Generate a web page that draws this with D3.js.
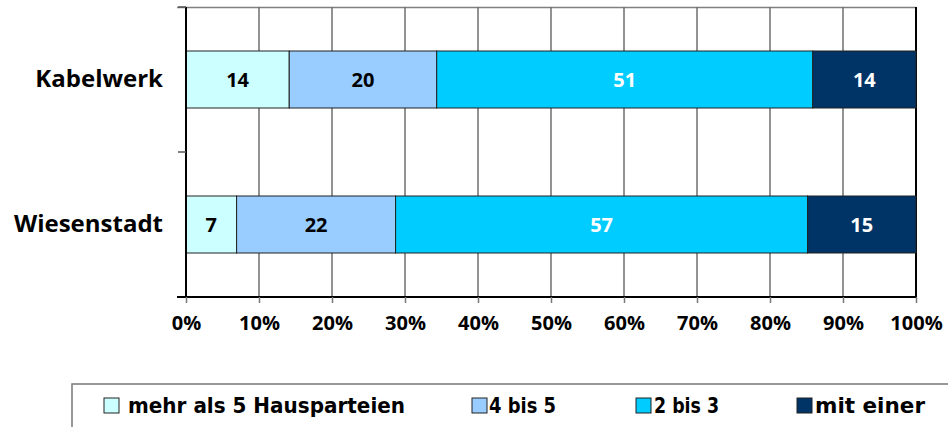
<!DOCTYPE html>
<html>
<head>
<meta charset="utf-8">
<script src="https://cdn.jsdelivr.net/npm/d3@7"></script>
<style>
  body { margin: 0; background: #fff; }
  text { font-family: "Open Sans", sans-serif; font-weight: bold; }
</style>
</head>
<body>
<script>
// chart data
const categories = ['Kabelwerk', 'Wiesenstadt'];
const seriesNames = ['mehr als 5 Hausparteien', '4 bis 5', '2 bis 3', 'mit einer'];
const kabelwerk = [14, 20, 51, 14];
const wiesenstadt = [7, 22, 57, 15];
const xTicks = [0, 10, 20, 30, 40, 50, 60, 70, 80, 90, 100];

const colors = ['#ccffff', '#99ccff', '#00ccff', '#003366'];
const labelColors = ['#000', '#000', '#fff', '#fff'];

const SCREEN = { width: 948, height: 427, left: 186, right: 32, top: 7, bottom: 130 };
SCREEN.innerWidth = SCREEN.width - SCREEN.left - SCREEN.right;
SCREEN.innerHeight = SCREEN.height - SCREEN.top - SCREEN.bottom;

const svg = d3.select('body').append('svg')
    .attr('width', SCREEN.width)
    .attr('height', SCREEN.height);

const canvas = svg.append('g')
    .attr('transform', `translate(${SCREEN.left},${SCREEN.top})`);

// build stacked rows (values normalised to 100%)
const rows = [kabelwerk, wiesenstadt].map((vals, i) => {
    const total = d3.sum(vals);
    let acc = 0;
    return vals.map((v, j) => {
        const seg = { cat: categories[i], idx: j, value: v, x0: acc / total * 100 };
        acc += v;
        seg.x1 = acc / total * 100;
        return seg;
    });
});

const x = d3.scaleLinear().domain([0, 100]).range([0, SCREEN.innerWidth]);
const pi = 1 - 57 / 145;
const y = d3.scaleBand().domain(categories).range([0, SCREEN.innerHeight])
    .paddingInner(pi).paddingOuter(pi / 2);

// top frame line
canvas.append('line')
    .attr('x1', -9).attr('x2', SCREEN.innerWidth)
    .attr('y1', 0.5).attr('y2', 0.5)
    .attr('stroke', '#808080').attr('stroke-width', 1.5);

// vertical grid
canvas.append('g').selectAll('line')
    .data(xTicks.slice(1))
    .join('line')
    .attr('x1', d => x(d)).attr('x2', d => x(d))
    .attr('y1', 0).attr('y2', SCREEN.innerHeight)
    .attr('stroke', d => d === 100 ? '#000' : '#6e6e6e')
    .attr('stroke-width', d => d === 100 ? 2 : 1.5);

// bars
const rowGroups = canvas.selectAll('g.row')
    .data(rows)
    .join('g')
    .attr('class', 'row');

rowGroups.selectAll('rect')
    .data(d => d)
    .join('rect')
    .attr('x', d => x(d.x0))
    .attr('width', d => x(d.x1) - x(d.x0))
    .attr('y', d => y(d.cat))
    .attr('height', y.bandwidth())
    .attr('fill', d => colors[d.idx])
    .attr('stroke', '#222')
    .attr('stroke-width', 1);

rowGroups.selectAll('text')
    .data(d => d)
    .join('text')
    .attr('x', d => x((d.x0 + d.x1) / 2))
    .attr('y', d => y(d.cat) + y.bandwidth() / 2)
    .attr('dy', '0.36em')
    .attr('text-anchor', 'middle')
    .attr('fill', d => labelColors[d.idx])
    .style('font-size', '20px')
    .text(d => d.value);

// y axis
const yAxis = d3.axisLeft(y).tickSize(0).tickPadding(23).tickSizeOuter(0);
const yAxisGroup = canvas.append('g').call(yAxis);
yAxisGroup.select('.domain').remove();
yAxisGroup.selectAll('text')
    .style('font-size', '24px')
    .attr('fill', '#000');

// y axis line and band separator ticks
canvas.append('line')
    .attr('x1', 0).attr('x2', 0)
    .attr('y1', 0).attr('y2', SCREEN.innerHeight)
    .attr('stroke', '#000').attr('stroke-width', 2);
canvas.append('g').selectAll('line')
    .data([0, y.step(), 2 * y.step()])
    .join('line')
    .attr('x1', -8).attr('x2', 0)
    .attr('y1', d => d).attr('y2', d => d)
    .attr('stroke', '#555').attr('stroke-width', 1.5);

// x axis
const xAxis = d3.axisBottom(x)
    .tickValues(xTicks)
    .tickFormat(d => d + '%')
    .tickSize(6)
    .tickPadding(13)
    .tickSizeOuter(0);
const xAxisGroup = canvas.append('g')
    .attr('transform', `translate(0,${SCREEN.innerHeight})`)
    .call(xAxis);
xAxisGroup.select('.domain')
    .attr('stroke', '#000').attr('stroke-width', 2)
    .attr('d', `M-9,0H${SCREEN.innerWidth}`);
xAxisGroup.selectAll('.tick line').attr('stroke', '#777').attr('stroke-width', 1.5);
xAxisGroup.selectAll('text')
    .style('font-size', '20px')
    .attr('fill', '#000');

// legend
const legend = svg.append('g').attr('transform', 'translate(72,384)');
legend.append('rect')
    .attr('x', 0).attr('y', 0)
    .attr('width', 900).attr('height', 60)
    .attr('fill', '#fff')
    .attr('stroke', '#777').attr('stroke-width', 1.5);

const legendSwatchX = [32, 400, 564, 725];
const legendTextX = [56, 417, 582, 743];
const legendTextWidth = [277, 67, 65, 110];
const legendItems = legend.selectAll('g.item')
    .data(seriesNames)
    .join('g')
    .attr('class', 'item');

legendItems.append('rect')
    .attr('x', (d, i) => legendSwatchX[i])
    .attr('y', 14)
    .attr('width', 15).attr('height', 15)
    .attr('fill', (d, i) => colors[i])
    .attr('stroke', '#222').attr('stroke-width', 1);

legendItems.append('text')
    .attr('x', (d, i) => legendTextX[i])
    .attr('y', 29)
    .attr('textLength', (d, i) => legendTextWidth[i])
    .attr('lengthAdjust', 'spacingAndGlyphs')
    .style('font-family', '"DejaVu Sans Condensed", "DejaVu Sans", sans-serif')
    .style('font-size', '21px')
    .attr('fill', '#000')
    .text(d => d);
</script>
</body>
</html>
